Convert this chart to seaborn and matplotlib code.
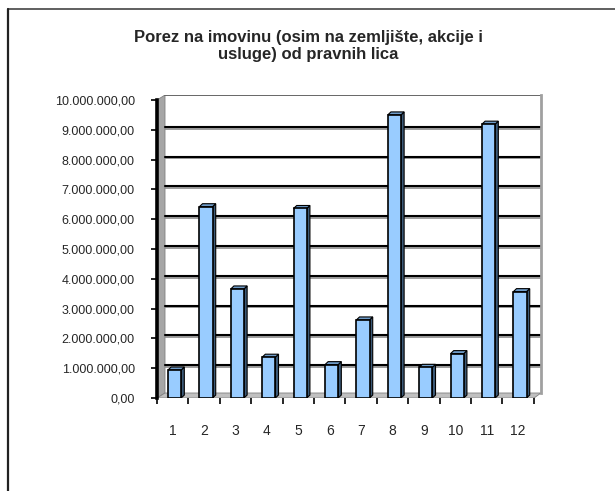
import matplotlib
matplotlib.use("Agg")
import matplotlib.pyplot as plt
from matplotlib.patches import Polygon
from matplotlib.lines import Line2D
from matplotlib.ticker import FuncFormatter, FixedLocator
import seaborn as sns
import pandas as pd

# podaci (procjena sa slike)
mjeseci = ['1', '2', '3', '4', '5', '6', '7', '8', '9', '10', '11', '12']
iznosi = [940000, 6420000, 3660000, 1370000, 6360000, 1120000,
          2620000, 9500000, 1030000, 1490000, 9190000, 3570000]
naslov = 'Porez na imovinu (osim na zemljište, akcije i\nusluge) od pravnih lica'

df = pd.DataFrame({'mjesec': mjeseci, 'iznos': iznosi})

sns.set_style('white')
plt.rcParams['font.family'] = ['Liberation Sans', 'DejaVu Sans']

W, H = 615, 491
fig = plt.figure(figsize=(W / 100, H / 100), dpi=100)

# okvir grafikona
fig.add_artist(Line2D([8 / W, 1], [1 - 9 / H, 1 - 9 / H], color='#444444', lw=1.2))
fig.add_artist(Line2D([8 / W, 8 / W], [0, 1 - 9 / H], color='#222222', lw=1.6))

fig.text(308 / W, 1 - 46 / H, naslov, ha='center', va='center',
         fontsize=12, fontweight='bold', linespacing=1.2)

left, right, top, bottom = 157, 541, 95, 398
ax = fig.add_axes([left / W, 1 - bottom / H, (right - left) / W, (bottom - top) / H])

sns.barplot(data=df, x='mjesec', y='iznos', color='#99CCFF', edgecolor='black',
            linewidth=1.2, width=0.42, saturation=1, ax=ax, zorder=3)

cat_w = 31.4
ax.set_xlim(-0.5, -0.5 + (right - left) / cat_w)
ymax = (bottom - top) / 29.8 * 1e6
ax.set_ylim(0, ymax)

# 3D strane stubića
dx, dy = 0.1, 0.1e6
for p in list(ax.patches):
    p.set_x(p.get_x() + 0.06)
    x0, w, h = p.get_x(), p.get_width(), p.get_height()
    side = Polygon([(x0 + w, 0), (x0 + w, h), (x0 + w + dx, h + dy), (x0 + w + dx, dy)],
                   closed=True, facecolor='#3C5A78', edgecolor='black', lw=0.8, zorder=2.9)
    topf = Polygon([(x0, h), (x0 + w, h), (x0 + w + dx, h + dy), (x0 + dx, h + dy)],
                   closed=True, facecolor='#6E9BC8', edgecolor='black', lw=0.8, zorder=2.9)
    ax.add_patch(side)
    ax.add_patch(topf)

# zidovi i pod
wall = 8 / (right - left)
floor_h = 5 / (bottom - top)
front_end = (534 - left) / (right - left)
ax.add_patch(Polygon([(0, 0), (wall, floor_h), (wall, 1), (0, 1 - floor_h)], closed=True,
                     transform=ax.transAxes, facecolor='#A6A6A6', edgecolor='#808080', lw=0.6, zorder=1))
ax.add_patch(Polygon([(0, 0), (front_end, 0), (1, floor_h), (wall, floor_h)], closed=True,
                     transform=ax.transAxes, facecolor='#C0C0C0', edgecolor='#808080', lw=0.6, zorder=1))

yticks = list(range(0, 10000001, 1000000))
for t in yticks[1:-1]:
    ax.axhline(t + 0.04e6, xmin=wall, xmax=1, color='#8C8C8C', lw=1.2, zorder=1.5)
    ax.axhline(t + 0.1e6, xmin=wall, xmax=1, color='black', lw=1.5, zorder=1.6)
ax.axhline(ymax, xmin=wall, xmax=1, color='#666666', lw=1.4, zorder=1.6)

for s in ['top', 'bottom']:
    ax.spines[s].set_visible(False)
ax.spines['left'].set_color('black')
ax.spines['left'].set_linewidth(2.6)
ax.spines['left'].set_bounds(0, 10.0e6)
ax.spines['right'].set_color('#A0A0A0')
ax.spines['right'].set_linewidth(2)
ax.spines['right'].set_bounds(0.17e6, ymax)

ax.yaxis.set_major_locator(FixedLocator(yticks))
ax.yaxis.set_major_formatter(FuncFormatter(lambda v, pos: f'{int(v):,}'.replace(',', '.') + ',00'))
ax.tick_params(axis='y', left=True, length=4, width=1.2, color='black', pad=12, labelsize=9)

ax.set_xticks(range(len(mjeseci)))
ax.set_xticklabels(mjeseci)
ax.set_xticks([i - 0.5 for i in range(len(mjeseci) + 1)], minor=True)
ax.tick_params(axis='x', which='major', length=0, pad=19, labelsize=10)
ax.tick_params(axis='x', which='minor', bottom=True, length=4, width=1.2, color='black')

ax.set_xlabel('')
ax.set_ylabel('')

plt.savefig('out.png', dpi=100)
